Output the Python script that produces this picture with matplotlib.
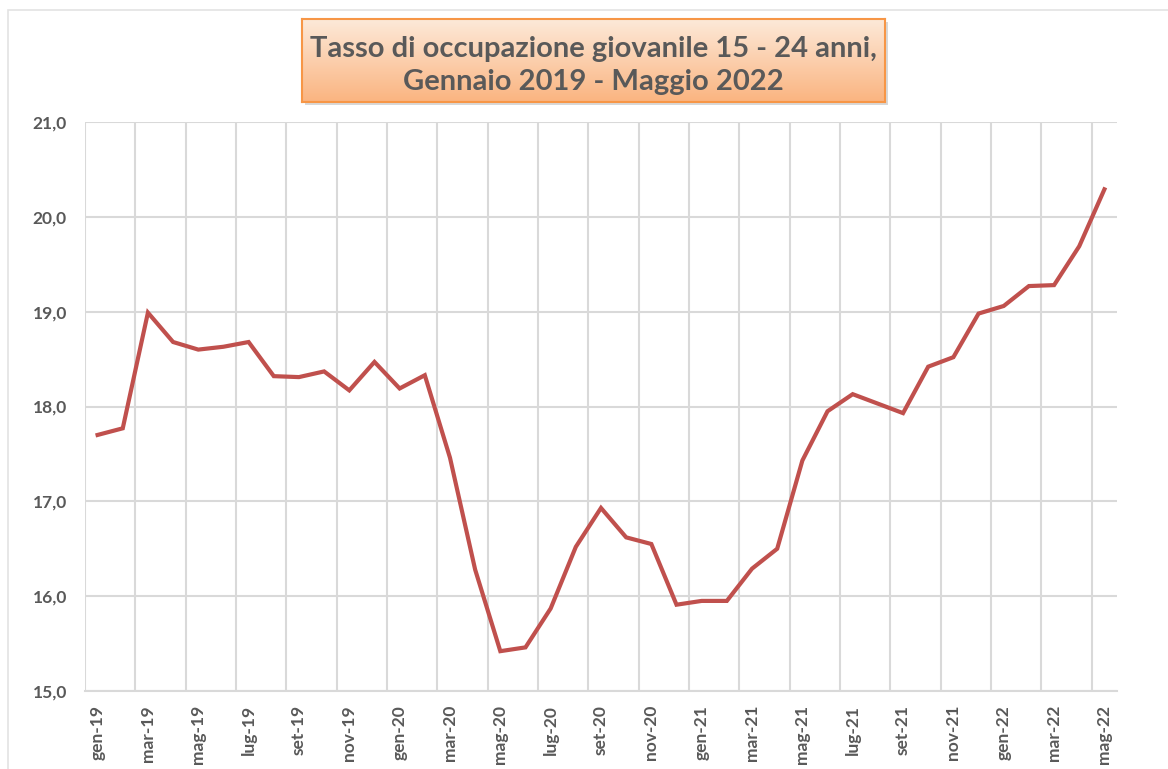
import matplotlib
matplotlib.use("Agg")
import matplotlib.pyplot as plt
import numpy as np
from matplotlib.patches import Rectangle

months = ["gen", "feb", "mar", "apr", "mag", "giu", "lug", "ago", "set", "ott", "nov", "dic"]
categories = [f"{m}-{y}" for y in ["19", "20", "21", "22"] for m in months][:41]

values = [17.70, 17.77, 18.99, 18.68, 18.60, 18.63, 18.68, 18.32, 18.31, 18.37, 18.17, 18.47,
          18.19, 18.33, 17.46, 16.28, 15.42, 15.46, 15.87, 16.52, 16.93, 16.62, 16.55, 15.91,
          15.95, 15.95, 16.29, 16.50, 17.43, 17.95, 18.13, 18.03, 17.93, 18.42, 18.52, 18.98,
          19.06, 19.27, 19.28, 19.69, 20.29]

title_lines = ["Tasso di occupazione giovanile 15 - 24 anni,", "Gennaio 2019 - Maggio 2022"]

W, H = 1168, 769
fig = plt.figure(figsize=(W / 100, H / 100), dpi=100)
fig.patch.set_facecolor("white")

FONT = ["Lato", "DejaVu Sans"]
TXT = "#595959"
GRID = "#d9d9d9"

# chart frame
fig.patches.append(Rectangle((8 / W, -0.01), 1.05, 1 - 10 / H + 0.01, transform=fig.transFigure,
                             fill=False, edgecolor="#e3e3e3", linewidth=1.2, zorder=-2))

L, R, T, B = 85, 1117, 122, 691
ax = fig.add_axes([L / W, 1 - B / H, (R - L) / W, (B - T) / H])
x = np.arange(len(values))
ax.plot(x, values, color="#c0504d", linewidth=3.0, solid_joinstyle="miter", zorder=3)
ax.set_xlim(-0.5, len(values) - 0.5)
ax.set_ylim(15, 21)
ax.set_yticks(np.arange(15, 21.01, 1))
ax.set_yticklabels([f"{v:.1f}".replace(".", ",") for v in np.arange(15, 21.01, 1)])
ax.set_xticks(x[::2])
ax.set_xticklabels(categories[::2], rotation=90)
ax.set_xticks(np.arange(-0.5, len(values), 2), minor=True)
ax.grid(False)
ax.yaxis.grid(True, color=GRID, linewidth=1.5)
ax.xaxis.grid(True, which="minor", color=GRID, linewidth=1.5)
ax.set_axisbelow(True)
for s in ["top", "right", "left"]:
    ax.spines[s].set_visible(False)
ax.spines["bottom"].set_color(GRID)
ax.spines["bottom"].set_linewidth(1.5)
ax.tick_params(axis="both", which="both", length=0)
ax.tick_params(axis="y", pad=13)
ax.tick_params(axis="x", pad=10)
for lab in ax.get_xticklabels() + ax.get_yticklabels():
    lab.set_fontfamily(FONT)
    lab.set_fontweight("bold")
    lab.set_fontsize(12.5)
    lab.set_color(TXT)

# title box with gradient
bx0, bx1, by0, by1 = 302, 885, 19, 102
# shadow
fig.patches.append(Rectangle(((bx0 + 3) / W, 1 - (by1 + 3) / H), (bx1 - bx0) / W, (by1 - by0) / H,
                             transform=fig.transFigure, facecolor="#c8c8c8", edgecolor="none",
                             alpha=0.7, zorder=-1))
tax = fig.add_axes([bx0 / W, 1 - by1 / H, (bx1 - bx0) / W, (by1 - by0) / H])
tax.set_zorder(5)
top_c = np.array([253, 234, 218]) / 255
bot_c = np.array([250, 180, 128]) / 255
t = np.linspace(0, 1, 256)[:, None]
grad = top_c[None, :] * (1 - t) + bot_c[None, :] * t
grad = np.repeat(grad[:, None, :], 2, axis=1)
tax.imshow(grad, aspect="auto", extent=[0, 1, 0, 1], origin="upper")
tax.set_xlim(0, 1)
tax.set_ylim(0, 1)
tax.set_xticks([])
tax.set_yticks([])
for s in tax.spines.values():
    s.set_color("#f79646")
    s.set_linewidth(1.5)
tax.text(0.5, 0.64, title_lines[0], ha="center", va="center", fontsize=21, fontweight="bold",
         color=TXT, family=FONT, transform=tax.transAxes)
tax.text(0.5, 0.245, title_lines[1], ha="center", va="center", fontsize=21, fontweight="bold",
         color=TXT, family=FONT, transform=tax.transAxes)

fig.savefig("out.png", dpi=100)
